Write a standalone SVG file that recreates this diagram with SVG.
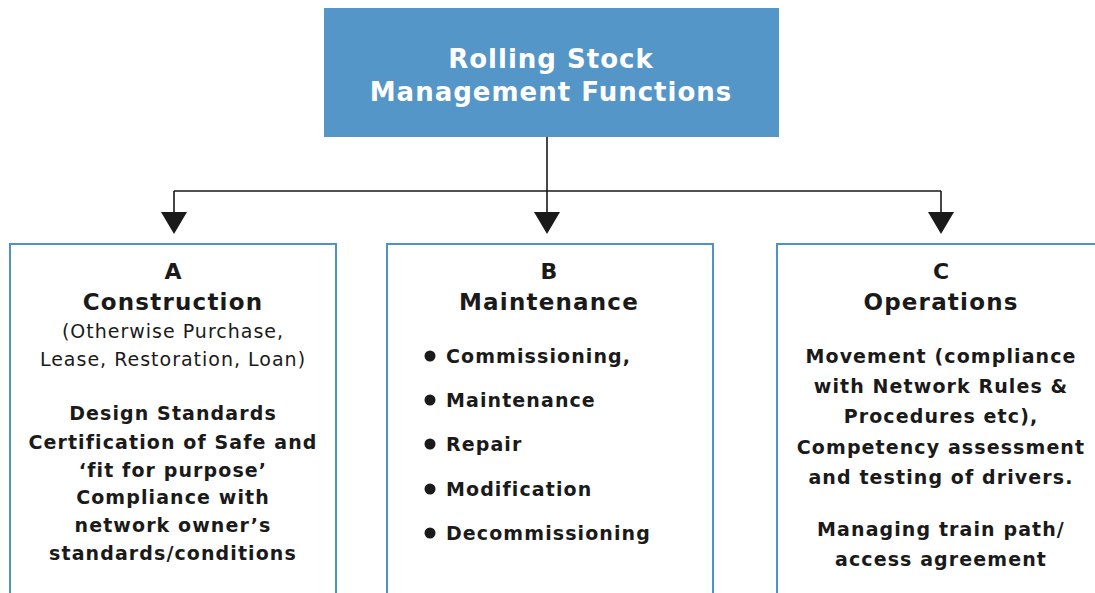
<svg xmlns="http://www.w3.org/2000/svg" width="1095" height="593" viewBox="0 0 1095 593">
  <defs>
    <style>
      .t { font-family: "DejaVu Sans", Verdana, sans-serif; fill: #1a1a1a; text-anchor: middle; }
      .b { font-weight: bold; letter-spacing: 1.1px; }
      .title { font-size: 26px; font-weight: bold; letter-spacing: 1px; fill: #ffffff; }
      .head { font-size: 23px; font-weight: bold; letter-spacing: 1.2px; }
      .letter { font-size: 22px; font-weight: bold; }
      .body { font-size: 19px; }
      .plain { letter-spacing: 1px; }
      .box { fill: #ffffff; stroke: #4d93c3; stroke-width: 2; }
      .wire { fill: none; stroke: #1a1a1a; stroke-width: 1.6; }
      .arrow { fill: #1a1a1a; }
      .bullet { fill: #1a1a1a; }
    </style>
  </defs>
  <rect width="1095" height="593" fill="#ffffff"/>

  <!-- root -->
  <g id="root">
    <rect x="324" y="8" width="455" height="129" fill="#5596c8"/>
    <text class="t title" x="551" y="68">Rolling Stock</text>
    <text class="t title" x="551" y="101">Management Functions</text>
  </g>

  <!-- connectors -->
  <g id="connectors">
    <path class="wire" d="M547 137 V191 M174 191 H941 M174 191 V214 M547 191 V214 M941 191 V214"/>
    <polygon class="arrow" points="161,212 187,212 174,234"/>
    <polygon class="arrow" points="534,212 560,212 547,234"/>
    <polygon class="arrow" points="928,212 954,212 941,234"/>
  </g>

  <!-- A: construction -->
  <g id="node-a">
    <rect class="box" x="10" y="244" width="326" height="360"/>
    <text class="t letter" x="173" y="279">A</text>
    <text class="t head" x="173" y="310">Construction</text>
    <text class="t body plain" x="173" y="338">(Otherwise Purchase,</text>
    <text class="t body plain" x="173" y="366">Lease, Restoration, Loan)</text>
    <text class="t body b" x="173" y="420">Design Standards</text>
    <text class="t body b" x="173" y="449">Certification of Safe and</text>
    <text class="t body b" x="173" y="477">‘fit for purpose’</text>
    <text class="t body b" x="173" y="504">Compliance with</text>
    <text class="t body b" x="173" y="532">network owner’s</text>
    <text class="t body b" x="173" y="560">standards/conditions</text>
  </g>

  <!-- B: maintenance -->
  <g id="node-b">
    <rect class="box" x="387" y="244" width="326" height="360"/>
    <text class="t letter" x="549" y="279">B</text>
    <text class="t head" x="549" y="310">Maintenance</text>
    <circle class="bullet" cx="430" cy="356" r="5.5"/>
    <circle class="bullet" cx="430" cy="400" r="5.5"/>
    <circle class="bullet" cx="430" cy="444" r="5.5"/>
    <circle class="bullet" cx="430" cy="489" r="5.5"/>
    <circle class="bullet" cx="430" cy="533" r="5.5"/>
    <g class="t body b" style="text-anchor:start">
      <text x="446" y="363">Commissioning,</text>
      <text x="446" y="407">Maintenance</text>
      <text x="446" y="451">Repair</text>
      <text x="446" y="496">Modification</text>
      <text x="446" y="540">Decommissioning</text>
    </g>
  </g>

  <!-- C: operations -->
  <g id="node-c">
    <rect class="box" x="777" y="244" width="340" height="360"/>
    <text class="t letter" x="941" y="279">C</text>
    <text class="t head" x="941" y="310">Operations</text>
    <text class="t body b" x="941" y="363">Movement (compliance</text>
    <text class="t body b" x="941" y="393">with Network Rules &amp;</text>
    <text class="t body b" x="941" y="423">Procedures etc),</text>
    <text class="t body b" x="941" y="454">Competency assessment</text>
    <text class="t body b" x="941" y="484">and testing of drivers.</text>
    <text class="t body b" x="941" y="536">Managing train path/</text>
    <text class="t body b" x="941" y="566">access agreement</text>
  </g>
</svg>
